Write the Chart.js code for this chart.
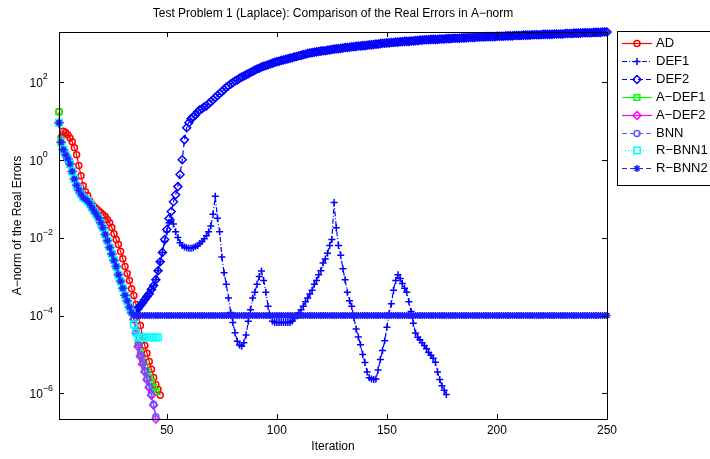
<!DOCTYPE html>
<html>
<head>
<meta charset="utf-8">
<title>Test Problem 1 (Laplace)</title>
<script src="https://cdn.jsdelivr.net/npm/chart.js@4.4.1/dist/chart.umd.min.js"></script>
<style>
  body { margin: 0; background: #fff; }
  canvas { display: block; }
</style>
</head>
<body>
<canvas id="errorChart" width="710" height="459"></canvas>
<script>
// iteration numbers 1..250 (x values)
const iterations = Array.from({ length: 250 }, (_, i) => i + 1);

const xTicks = [50, 100, 150, 200, 250];
const yTickValues = [1e-6, 1e-4, 1e-2, 1, 1e2];
const yTickExponents = ["\u22126", "\u22124", "\u22122", "0", "2"];

// iterations 1..34, where most methods run on top of each other
const commonStart = [8.9, 2.8, 1.8, 1.35, 1.05, 0.78, 0.50, 0.32, 0.22, 0.166,
  0.132, 0.107, 0.098, 0.087, 0.074, 0.059, 0.048, 0.040, 0.032, 0.024,
  0.018, 0.012, 8.3e-3, 5.6e-3, 3.8e-3, 2.6e-3, 1.8e-3, 1.12e-3, 7.6e-4, 5.0e-4,
  3.3e-4, 2.4e-4, 1.66e-4, 1.2e-4];

const adErrors = [17.0, 3.72, 5.37, 5.01, 4.37, 3.63, 2.88, 2.04, 1.35, 0.708,
  0.389, 0.214, 0.151, 0.120, 0.0891, 0.0708, 0.0617, 0.0550, 0.0490, 0.0437,
  0.0389, 0.0347, 0.0288, 0.0240, 0.0182, 0.0126, 8.91e-3, 6.61e-3, 4.37e-3, 2.88e-3,
  1.82e-3, 1.20e-3, 7.94e-4, 4.90e-4, 3.24e-4, 1.91e-4, 1.0e-4, 5.50e-5, 2.88e-5, 1.70e-5,
  1.07e-5, 6.61e-6, 4.17e-6, 2.57e-6, 1.70e-6, 1.26e-6, 8.91e-7];

// DEF1, iterations 35..177
const def1Tail = [1.12e-4, 1.35e-4, 1.51e-4, 1.82e-4, 2.14e-4, 2.57e-4, 3.09e-4, 3.63e-4, 4.68e-4, 5.89e-4,
  8.32e-4, 1.41e-3, 2.40e-3, 4.17e-3, 7.94e-3, 1.41e-2, 2.40e-2, 2.82e-2, 2.24e-2, 1.41e-2,
  1.0e-2, 7.41e-3, 6.31e-3, 5.75e-3, 5.50e-3, 5.37e-3, 5.37e-3, 5.50e-3, 5.89e-3, 6.31e-3,
  7.08e-3, 7.94e-3, 9.33e-3, 1.12e-2, 1.41e-2, 2.0e-2, 3.98e-2, 0.115, 3.16e-2, 1.41e-2,
  3.16e-3, 1.26e-3, 6.31e-4, 2.82e-4, 1.20e-4, 6.61e-5, 3.63e-5, 2.19e-5, 1.74e-5, 1.62e-5,
  2.0e-5, 3.16e-5, 7.08e-5, 1.41e-4, 2.82e-4, 3.98e-4, 6.31e-4, 1.0e-3, 1.38e-3, 7.94e-4,
  3.98e-4, 1.74e-4, 1.0e-4, 7.08e-5, 6.61e-5, 6.61e-5, 6.61e-5, 6.61e-5, 6.61e-5, 6.61e-5,
  6.61e-5, 6.61e-5, 7.24e-5, 8.32e-5, 1.0e-4, 1.17e-4, 1.41e-4, 1.74e-4, 2.24e-4, 2.82e-4,
  3.55e-4, 4.47e-4, 6.31e-4, 7.94e-4, 1.12e-3, 1.41e-3, 2.24e-3, 2.82e-3, 3.98e-3, 6.31e-3,
  8.91e-3, 7.94e-2, 1.78e-2, 6.31e-3, 3.55e-3, 1.58e-3, 8.32e-4, 3.98e-4, 2.40e-4, 1.74e-4,
  8.91e-5, 4.47e-5, 2.82e-5, 1.78e-5, 1.0e-5, 6.17e-6, 3.55e-6, 2.51e-6, 2.34e-6, 2.29e-6,
  2.34e-6, 3.98e-6, 7.41e-6, 1.26e-5, 2.24e-5, 5.01e-5, 1.12e-4, 2.0e-4, 4.47e-4, 7.94e-4,
  1.12e-3, 8.91e-4, 6.61e-4, 5.01e-4, 3.98e-4, 2.24e-4, 1.26e-4, 6.31e-5, 3.55e-5, 2.75e-5,
  2.40e-5, 2.0e-5, 1.70e-5, 1.41e-5, 1.12e-5, 9.55e-6, 7.94e-6, 6.31e-6, 3.55e-6, 2.29e-6,
  1.58e-6, 1.20e-6, 9.33e-7];

// DEF2, iterations 35..250
const def2Tail = [1.12e-4, 1.35e-4, 1.51e-4, 1.82e-4, 2.14e-4, 2.57e-4, 3.09e-4, 3.63e-4, 4.68e-4, 5.89e-4,
  8.32e-4, 1.41e-3, 2.40e-3, 4.17e-3, 8.91e-3, 1.62e-2, 3.09e-2, 4.68e-2, 8.32e-2, 0.126,
  0.204, 0.417, 1.0, 3.24, 6.61, 8.91, 11.2, 12.6, 14.1, 17.0,
  19.1, 20.4, 22.9, 24.0, 27.5, 30.9, 34.7, 39.8, 44.7, 50.1,
  56.2, 63.1, 72.4, 79.4, 87.1, 95.5, 105, 112, 123, 132,
  141, 151, 162, 174, 186, 200, 214, 224, 240, 251,
  263, 275, 288, 302, 316, 331, 339, 355, 363, 380,
  389, 407, 417, 437, 447, 468, 479, 501, 513, 537,
  550, 562, 575, 589, 603, 617, 631, 631, 646, 661,
  676, 692, 708, 708, 724, 741, 759, 759, 776, 794,
  794, 813, 832, 832, 851, 851, 871, 891, 891, 912,
  933, 933, 955, 977, 977, 1000, 1000, 1023, 1023, 1047,
  1047, 1072, 1072, 1096, 1096, 1096, 1122, 1122, 1148, 1148,
  1175, 1175, 1202, 1202, 1202, 1230, 1230, 1230, 1230, 1259,
  1259, 1259, 1288, 1288, 1288, 1318, 1318, 1318, 1318, 1349,
  1349, 1349, 1380, 1380, 1380, 1380, 1413, 1413, 1413, 1413,
  1445, 1445, 1445, 1445, 1445, 1479, 1479, 1479, 1479, 1514,
  1514, 1514, 1514, 1549, 1549, 1549, 1549, 1585, 1585, 1585,
  1585, 1622, 1622, 1622, 1622, 1622, 1660, 1660, 1660, 1660,
  1660, 1698, 1698, 1698, 1698, 1698, 1738, 1738, 1738, 1738,
  1778, 1778, 1778, 1778, 1820, 1820, 1820, 1820, 1820, 1862,
  1862, 1862, 1862, 1905, 1905, 1905];

const aDef1Start = [17.0, 3.16];
const aDef1Tail = [7.94e-5, 3.98e-5, 2.0e-5, 1.12e-5, 7.08e-6, 5.01e-6, 3.55e-6, 2.51e-6, 1.91e-6, 1.41e-6, 1.12e-6];
const aDef2Tail = [7.94e-5, 3.55e-5, 1.58e-5, 8.91e-6, 5.62e-6, 3.55e-6, 2.24e-6, 1.41e-6, 8.91e-7, 5.01e-7, 2.2e-7];
const bnnTail = [8.32e-5, 3.98e-5, 1.78e-5, 1.0e-5, 6.31e-6, 3.80e-6, 2.40e-6, 1.51e-6, 9.55e-7, 5.25e-7, 2.51e-7];
const rBnn1Tail = [5.89e-5, 3.63e-5, 2.75e-5, 2.75e-5, 2.75e-5, 2.75e-5, 2.75e-5, 2.75e-5, 2.75e-5, 2.75e-5, 2.75e-5, 2.75e-5];

// R-BNN2 stalls at 1e-4, iterations 35..250
const rBnn2Tail = [
  1e-4, 1e-4, 1e-4, 1e-4, 1e-4, 1e-4, 1e-4, 1e-4, 1e-4, 1e-4, 1e-4, 1e-4, 1e-4, 1e-4, 1e-4, 1e-4, 1e-4, 1e-4,
  1e-4, 1e-4, 1e-4, 1e-4, 1e-4, 1e-4, 1e-4, 1e-4, 1e-4, 1e-4, 1e-4, 1e-4, 1e-4, 1e-4, 1e-4, 1e-4, 1e-4, 1e-4,
  1e-4, 1e-4, 1e-4, 1e-4, 1e-4, 1e-4, 1e-4, 1e-4, 1e-4, 1e-4, 1e-4, 1e-4, 1e-4, 1e-4, 1e-4, 1e-4, 1e-4, 1e-4,
  1e-4, 1e-4, 1e-4, 1e-4, 1e-4, 1e-4, 1e-4, 1e-4, 1e-4, 1e-4, 1e-4, 1e-4, 1e-4, 1e-4, 1e-4, 1e-4, 1e-4, 1e-4,
  1e-4, 1e-4, 1e-4, 1e-4, 1e-4, 1e-4, 1e-4, 1e-4, 1e-4, 1e-4, 1e-4, 1e-4, 1e-4, 1e-4, 1e-4, 1e-4, 1e-4, 1e-4,
  1e-4, 1e-4, 1e-4, 1e-4, 1e-4, 1e-4, 1e-4, 1e-4, 1e-4, 1e-4, 1e-4, 1e-4, 1e-4, 1e-4, 1e-4, 1e-4, 1e-4, 1e-4,
  1e-4, 1e-4, 1e-4, 1e-4, 1e-4, 1e-4, 1e-4, 1e-4, 1e-4, 1e-4, 1e-4, 1e-4, 1e-4, 1e-4, 1e-4, 1e-4, 1e-4, 1e-4,
  1e-4, 1e-4, 1e-4, 1e-4, 1e-4, 1e-4, 1e-4, 1e-4, 1e-4, 1e-4, 1e-4, 1e-4, 1e-4, 1e-4, 1e-4, 1e-4, 1e-4, 1e-4,
  1e-4, 1e-4, 1e-4, 1e-4, 1e-4, 1e-4, 1e-4, 1e-4, 1e-4, 1e-4, 1e-4, 1e-4, 1e-4, 1e-4, 1e-4, 1e-4, 1e-4, 1e-4,
  1e-4, 1e-4, 1e-4, 1e-4, 1e-4, 1e-4, 1e-4, 1e-4, 1e-4, 1e-4, 1e-4, 1e-4, 1e-4, 1e-4, 1e-4, 1e-4, 1e-4, 1e-4,
  1e-4, 1e-4, 1e-4, 1e-4, 1e-4, 1e-4, 1e-4, 1e-4, 1e-4, 1e-4, 1e-4, 1e-4, 1e-4, 1e-4, 1e-4, 1e-4, 1e-4, 1e-4,
  1e-4, 1e-4, 1e-4, 1e-4, 1e-4, 1e-4, 1e-4, 1e-4, 1e-4, 1e-4, 1e-4, 1e-4, 1e-4, 1e-4, 1e-4, 1e-4, 1e-4, 1e-4];

const def1Errors = commonStart.concat(def1Tail);
const def2Errors = commonStart.concat(def2Tail);
const aDef1Errors = aDef1Start.concat(commonStart.slice(2), aDef1Tail);
const aDef2Errors = commonStart.concat(aDef2Tail);
const bnnErrors = commonStart.concat(bnnTail);
const rBnn1Errors = commonStart.concat(rBnn1Tail);
const rBnn2Errors = commonStart.concat(rBnn2Tail);

const FONT = '"Liberation Sans", Arial, Helvetica, sans-serif';

function series(label, data, color, pointStyle, radius, dash, order) {
  return {
    label: label,
    data: data,
    borderColor: color,
    backgroundColor: "rgba(0,0,0,0)",
    pointBorderColor: color,
    pointBackgroundColor: "rgba(0,0,0,0)",
    borderWidth: 1.2,
    borderDash: dash,
    pointStyle: pointStyle,
    pointRadius: radius,
    pointBorderWidth: 1.5,
    pointHoverRadius: radius,
    tension: 0,
    clip: 8,
    order: order,
  };
}

// MATLAB style box, ticks, labels and legend
const matlabFrame = {
  id: "matlabFrame",
  afterDraw(chart) {
    const ctx = chart.ctx;
    const a = chart.chartArea;
    const xs = chart.scales.x;
    const ys = chart.scales.y;
    ctx.save();
    ctx.strokeStyle = "#000";
    ctx.fillStyle = "#000";
    ctx.lineWidth = 1;
    ctx.setLineDash([]);
    ctx.strokeRect(a.left + 0.5, a.top + 0.5, a.right - a.left, a.bottom - a.top);

    ctx.beginPath();
    xTicks.forEach((v) => {
      const px = Math.round(xs.getPixelForValue(v)) + 0.5;
      ctx.moveTo(px, a.bottom);
      ctx.lineTo(px, a.bottom - 5);
      ctx.moveTo(px, a.top);
      ctx.lineTo(px, a.top + 5);
    });
    yTickValues.forEach((v) => {
      const py = Math.round(ys.getPixelForValue(v)) + 0.5;
      ctx.moveTo(a.left, py);
      ctx.lineTo(a.left + 5, py);
      ctx.moveTo(a.right, py);
      ctx.lineTo(a.right - 5, py);
    });
    ctx.stroke();

    ctx.font = "12px " + FONT;
    ctx.textAlign = "center";
    ctx.textBaseline = "top";
    xTicks.forEach((v) => {
      ctx.fillText(String(v), xs.getPixelForValue(v), a.bottom + 6);
    });

    ctx.textAlign = "left";
    ctx.textBaseline = "middle";
    yTickValues.forEach((v, i) => {
      const py = ys.getPixelForValue(v);
      ctx.font = "12px " + FONT;
      ctx.fillText("10", 29.5, py + 1.5);
      const w = ctx.measureText("10").width;
      ctx.font = "9px " + FONT;
      ctx.fillText(yTickExponents[i], 29.5 + w, py - 5);
    });

    ctx.font = "12px " + FONT;
    ctx.textAlign = "center";
    ctx.textBaseline = "alphabetic";
    ctx.fillText("Test Problem 1 (Laplace): Comparison of the Real Errors in A\u2212norm", (a.left + a.right) / 2, 17);
    ctx.textBaseline = "middle";
    ctx.fillText("Iteration", (a.left + a.right) / 2, 447);
    ctx.save();
    ctx.translate(18, (a.top + a.bottom) / 2);
    ctx.rotate(-Math.PI / 2);
    ctx.fillText("A\u2212norm of the Real Errors", 0, 0);
    ctx.restore();

    // legend
    const boxX = 617.5, boxY = 31.5, rowH = 17.9;
    const sets = chart.data.datasets;
    const boxH = 154;
    ctx.fillStyle = "#fff";
    ctx.fillRect(boxX, boxY, 120, boxH);
    ctx.strokeStyle = "#000";
    ctx.strokeRect(boxX, boxY, 120, boxH);
    sets.forEach((ds, i) => {
      const y = Math.round(boxY + 11.5 + i * rowH) + 0.5;
      ctx.strokeStyle = ds.borderColor;
      ctx.lineWidth = 1.2;
      ctx.setLineDash(ds.borderDash);
      ctx.beginPath();
      ctx.moveTo(622, y);
      ctx.lineTo(652, y);
      ctx.stroke();
      ctx.setLineDash([]);
      ctx.lineWidth = 1.5;
      ctx.fillStyle = "rgba(0,0,0,0)";
      Chart.helpers.drawPoint(ctx, {
        pointStyle: ds.pointStyle,
        rotation: 0,
        radius: ds.pointRadius,
        borderWidth: 1.5,
      }, 637, y);
      ctx.fillStyle = "#000";
      ctx.font = "13px " + FONT;
      ctx.textAlign = "left";
      ctx.textBaseline = "middle";
      ctx.fillText(ds.label, 656, y);
    });
    ctx.restore();
  },
};

new Chart(document.getElementById("errorChart").getContext("2d"), {
  type: "line",
  data: {
    labels: iterations,
    datasets: [
      series("AD", adErrors, "#ff0000", "circle", 3, [], 8),
      series("DEF1", def1Errors, "#0000ff", "cross", 3.5, [5, 2, 1, 2], 7),
      series("DEF2", def2Errors, "#0000ff", "rectRot", 4, [5, 3], 6),
      series("A\u2212DEF1", aDef1Errors, "#00ff00", "rect", 4, [], 5),
      series("A\u2212DEF2", aDef2Errors, "#ff00ff", "rectRot", 4, [], 4),
      series("BNN", bnnErrors, "#5a5aff", "circle", 3, [5, 3], 3),
      series("R\u2212BNN1", rBnn1Errors, "#00ffff", "rect", 4.5, [1, 2], 2),
      series("R\u2212BNN2", rBnn2Errors, "#2020ff", "star", 3.5, [5, 3], 1),
    ],
  },
  options: {
    responsive: false,
    animation: false,
    devicePixelRatio: 1,
    layout: { padding: { left: 59, right: 103, top: 32, bottom: 40 } },
    scales: {
      x: { type: "linear", min: 1, max: 250, display: false },
      y: { type: "logarithmic", min: 2.2e-7, max: 1905, display: false },
    },
    plugins: {
      legend: { display: false },
      tooltip: { enabled: false },
    },
  },
  plugins: [matlabFrame],
});
</script>
</body>
</html>
